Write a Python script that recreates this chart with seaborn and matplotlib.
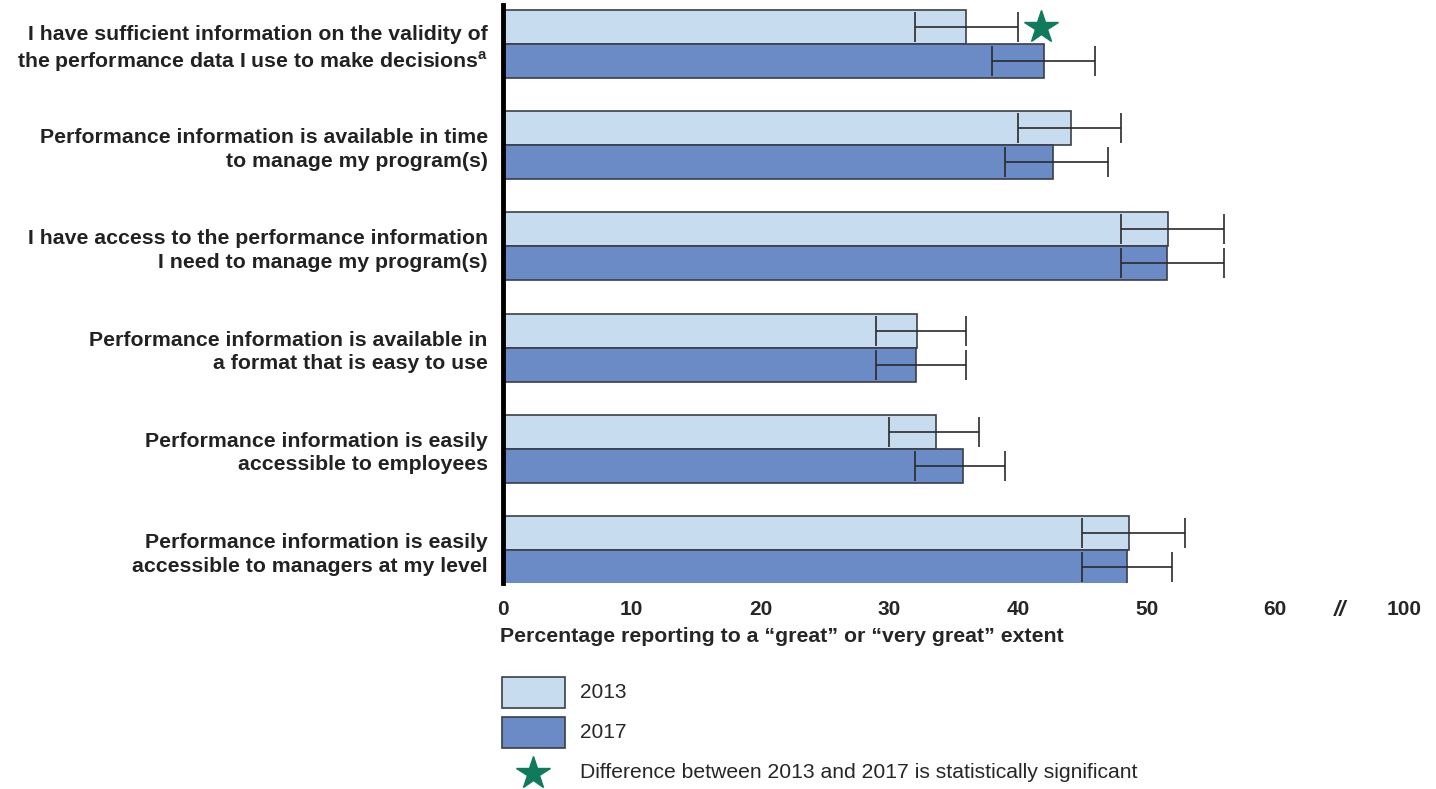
import numpy as np
import pandas as pd
import matplotlib
matplotlib.use('Agg')
import matplotlib.pyplot as plt
from matplotlib.patches import Rectangle
import seaborn as sns

# Data
questions = [
    'I have sufficient information on the validity of\nthe performance data I use to make decisions$^{\\mathbf{a}}$',
    'Performance information is available in time\nto manage my program(s)',
    'I have access to the performance information\nI need to manage my program(s)',
    'Performance information is available in\na format that is easy to use',
    'Performance information is easily\naccessible to employees',
    'Performance information is easily\naccessible to managers at my level',
]
years = ['2013', '2017']
pct_2013 = [36.0, 44.1, 51.7, 32.2, 33.6, 48.6]
pct_2017 = [42.0, 42.7, 51.6, 32.1, 35.7, 48.5]
lo_2013 = [32, 40, 48, 29, 30, 45]
hi_2013 = [40, 48, 56, 36, 37, 53]
lo_2017 = [38, 39, 48, 29, 32, 45]
hi_2017 = [46, 47, 56, 36, 39, 52]
significant = [True, False, False, False, False, False]
tick_vals = [0, 10, 20, 30, 40, 50, 60, 70]
tick_labels = ['0', '10', '20', '30', '40', '50', '60', '100']

colors = {'2013': '#c8dcf0', '2017': '#6b8bc6'}
edge = '#3b3e4a'
star_green = '#0f7a5c'

df = pd.DataFrame({
    'question': questions * 2,
    'year': ['2013'] * 6 + ['2017'] * 6,
    'pct': pct_2013 + pct_2017,
    'lo': lo_2013 + lo_2017,
    'hi': hi_2013 + hi_2017,
})

sns.set_style('white')
plt.rcParams['font.family'] = ['Liberation Sans', 'DejaVu Sans']
plt.rcParams['mathtext.fontset'] = 'custom'
plt.rcParams['mathtext.bf'] = 'Liberation Sans:bold'
narrow = ['Liberation Sans Narrow', 'Liberation Sans', 'DejaVu Sans']

fig = plt.figure(figsize=(14.36, 7.89), dpi=100)
ax = fig.add_axes([0.3503, 0.261, 0.6364, 0.7327])

sns.barplot(data=df, y='question', x='pct', hue='year', hue_order=years,
            palette=colors, saturation=1, width=0.67, edgecolor=edge,
            linewidth=1.2, errorbar=None, legend=False, ax=ax)

# error bars, placed on the bars seaborn drew
for cont, yr in zip(ax.containers, years):
    sub = df[df.year == yr]
    ys = [p.get_y() + p.get_height() / 2 for p in cont.patches]
    vals = sub.pct.values
    ax.errorbar(vals, ys, xerr=[vals - sub.lo.values, sub.hi.values - vals],
                fmt='none', ecolor='#2a2a2a', elinewidth=1.2, capsize=11,
                capthick=1.2)
    if yr == '2013':
        for y, h, s in zip(ys, sub.hi.values, significant):
            if s:
                ax.plot(h + 1.8, y, marker='*', markersize=25,
                        color=star_green, clip_on=False)

ax.set_xlim(0, 71)
ax.set_ylim(5.326, -0.385)
ax.set_xticks(tick_vals)
ax.set_xticklabels(tick_labels, fontsize=15, fontweight='bold', family=narrow)
ax.text(65, -0.047, '//', transform=ax.get_xaxis_transform(), ha='center',
        va='center', fontsize=16, fontweight='bold', fontstyle='italic')
ax.tick_params(axis='x', length=0, pad=12)
ax.tick_params(axis='y', length=0, pad=11)
for lab in ax.get_yticklabels():
    lab.set_fontsize(15.3)
    lab.set_fontweight('bold')
    lab.set_color('#222222')
    lab.set_multialignment('right')
    lab.set_linespacing(1.3)
ax.set_ylabel('')
ax.set_xlabel('')
for s in ['top', 'right', 'bottom']:
    ax.spines[s].set_visible(False)
ax.spines['left'].set_linewidth(3.5)
ax.spines['left'].set_color('black')

fig.text(0.348, 1 - 636 / 789, 'Percentage reporting to a \u201cgreat\u201d or \u201cvery great\u201d extent',
         fontsize=15.3, fontweight='bold', ha='left', va='center', family=narrow)

# legend
W, H = 1436, 789
for i, yr in enumerate(years):
    top = 677 + i * 40
    fig.add_artist(Rectangle((502 / W, 1 - (top + 31) / H), 63 / W, 31 / H,
                             facecolor=colors[yr], edgecolor=edge, linewidth=1.2,
                             transform=fig.transFigure))
    fig.text(580 / W, 1 - (top + 15.5) / H, yr, fontsize=15, va='center', ha='left')
fig.add_artist(plt.Line2D([533 / W], [1 - 773 / H], marker='*', markersize=25,
                          color=star_green, transform=fig.transFigure))
fig.text(580 / W, 1 - 773 / H, 'Difference between 2013 and 2017 is statistically significant',
         fontsize=15.2, va='center', ha='left')

fig.savefig('out.png', dpi=100)
